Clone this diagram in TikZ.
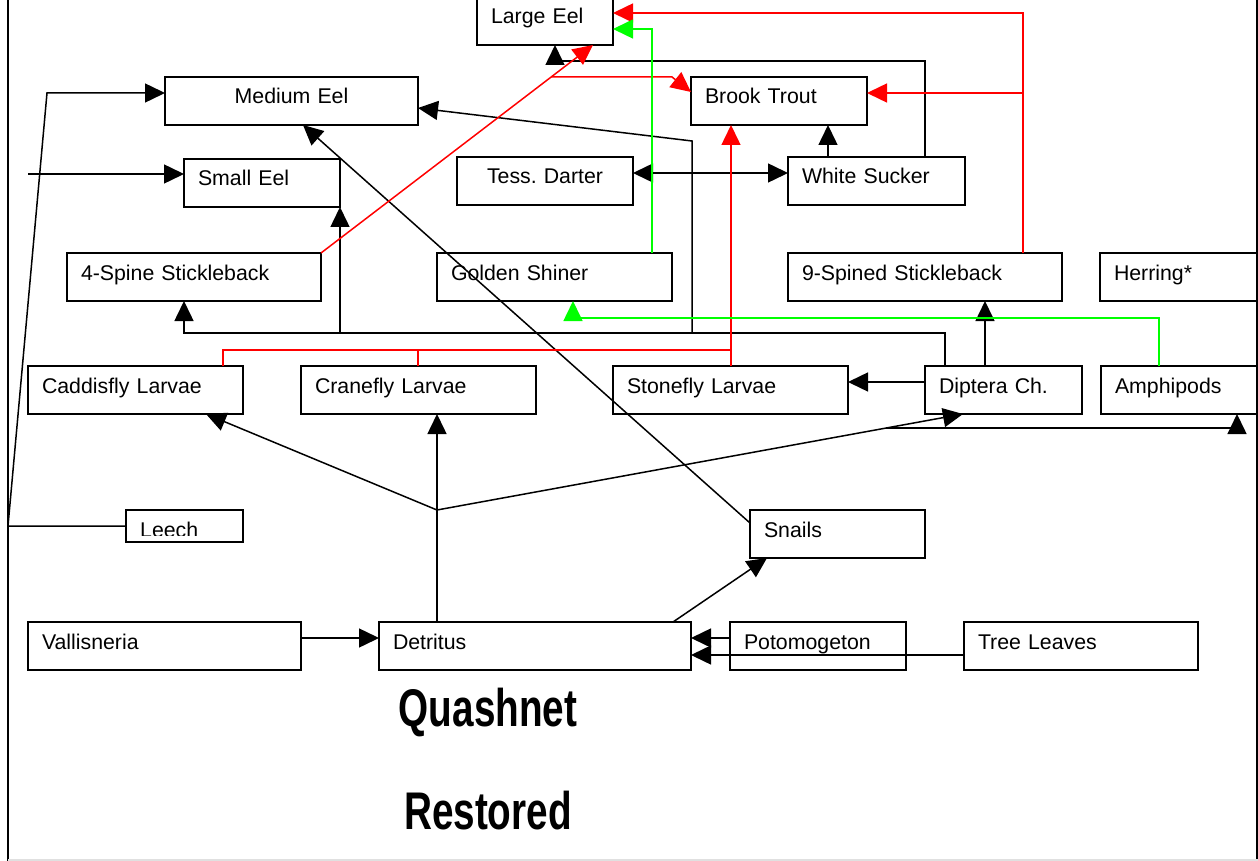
\documentclass[tikz,border=0pt]{standalone}
\usepackage{fontspec}
\setmainfont{Liberation Sans}
\usetikzlibrary{arrows.meta,calc}
\definecolor{linkred}{RGB}{255,0,0}
\definecolor{linkgreen}{RGB}{0,255,0}
\def\lab{\fontsize{21.3}{24}\selectfont}
\frenchspacing
\tikzset{
	box/.style={draw, line width=1.6pt, anchor=north west, outer sep=0pt, inner xsep=14pt, inner ysep=0pt, text height=27pt, text depth=21pt, text width=#1, align=left, font=\lab},
	cbox/.style={box=#1, align=center},
	feed/.style={line width=1.5pt, -{Triangle[length=20pt,width=19pt]}},
	feedboth/.style={line width=1.5pt, {Triangle[length=20pt,width=19pt]}-{Triangle[length=20pt,width=19pt]}},
	bigtitle/.style={anchor=base, font=\bfseries\fontsize{53}{60}\selectfont, xscale=0.73, inner sep=0pt}
}

\begin{document}
\begin{tikzpicture}[x=1pt, y=-1pt]
		%%%%% START %%%%%
		\useasboundingbox (0,0) rectangle (1258,861);
		
		\draw[line width=2pt] (8,0) -- (8,861);
		\draw[line width=1.5pt] (1257,0) -- (1257,861);
		\draw[line width=1.5pt, black!12] (8,860) -- (1258,860);
		
		% fish
		\node[box=108pt] (largeeel) at (477,-3) {Large Eel};
		\node[cbox=225pt] (mediumeel) at (165,77) {Medium Eel};
		\node[box=128pt] (smalleel) at (184,159) {Small Eel};
		\node[box=226pt] (stick4) at (67,253) {4-Spine Stickleback};
		\node[cbox=148pt] (darter) at (457,157) {Tess. Darter};
		\node[box=148pt] (trout) at (691,77) {Brook Trout};
		\node[box=149pt] (sucker) at (788,157) {White Sucker};
		\node[box=207pt] (shiner) at (437,253) {Golden Shiner};
		\node[box=246pt] (stick9) at (788,253) {9-Spined Stickleback};
		\node[box=129pt] (herring) at (1100,253) {Herring*};
		
		% invertebrates
		\node[box=187pt] (caddis) at (28,366) {Caddisfly Larvae};
		\node[box=207pt] (crane) at (301,366) {Cranefly Larvae};
		\node[box=207pt] (stone) at (613,366) {Stonefly Larvae};
		\node[box=129pt] (diptera) at (925,366) {Diptera Ch.};
		\node[box=128pt] (amphi) at (1101,366) {Amphipods};
		\begin{scope}
			\clip (126,510) rectangle (243,535);
			\node[anchor=base west, font=\lab, inner sep=0pt] (leechtxt) at (140,537) {Leech};
		\end{scope}
		\node[draw, line width=1.6pt, anchor=north west, outer sep=0pt, inner sep=0pt, minimum width=117pt, minimum height=32pt] (leech) at (126,510) {};
		\node[box=147pt] (snails) at (750,510) {Snails};
		
		% plants
		\node[box=245pt] (valli) at (28,622) {Vallisneria};
		\node[box=284pt] (detritus) at (379,622) {Detritus};
		\node[box=148pt] (potamo) at (730,622) {Potomogeton};
		\node[box=206pt] (leaves) at (964,622) {Tree Leaves};
		
		\node[bigtitle] (quash) at (488,726) {Quashnet};
		\node[bigtitle] (restored) at (488,829) {Restored};
		
		% black links
		\draw[feed] (leech.west) -- (8,526) -- (47,93) -- (mediumeel.west |- 0,93);
		\coordinate (smallin) at (28,174);
		\draw[feed] (smallin) -- (smalleel.west |- smallin);
		
		\draw[feed] (diptera.north -| 945,0) -- (945,333) -- (184,333) -- (stick4.south -| 184,0);
		\draw[feed] (340,333) -- (smalleel.south east);
		\draw[feed] (692,333) -- (692,141) -- (mediumeel.east |- 0,108);
		\draw[feed] (diptera.north -| 985,0) -- (stick9.south -| 985,0);
		\draw[feed] (diptera.west |- 0,382) -- (stone.east |- 0,382);
		
		\draw[feedboth] (darter.east |- 0,173) -- (sucker.west |- 0,173);
		\draw[feed] (sucker.north -| 828,0) -- (trout.south -| 828,0);
		\draw[feed] (sucker.north -| 925,0) |- (555,61) -- (largeeel.south -| 555,0);
		
		\draw[feed] (snails.west |- 0,523) -- (mediumeel.south -| 303,0);
		\draw[feed] (detritus.north -| 673,0) -- (snails.south -| 767,0);
		
		\coordinate (dj) at (437,510);
		\draw[feed] (detritus.north -| 437,0) -- (crane.south -| 437,0);
		\draw[feed] (dj) -- (caddis.south -| 206,0);
		\draw[feed] (dj) -- (diptera.south -| 963,0);
		\draw[feed] (886,428) -- (1237,428) -- (amphi.south -| 1237,0);
		
		\draw[feed] (valli.east |- 0,638) -- (detritus.west |- 0,638);
		\draw[feed] (potamo.west |- 0,638) -- (detritus.east |- 0,638);
		\draw[feed] (leaves.west |- 0,655) -- (detritus.east |- 0,655);
		
		% red links
		\draw[feed, linkred] (stick9.north -| 1023,0) |- (largeeel.east |- 0,13);
		\draw[feed, linkred] (1023,93) -- (trout.east |- 0,93);
		\draw[feed, linkred] (stick4.north east) -- (largeeel.south -| 593,0);
		\draw[feed, linkred] (551,77) -- (672,77) -- (trout.west |- 0,92);
		\draw[feed, linkred] (stone.north -| 731,0) -- (trout.south -| 731,0);
		\draw[line width=1.5pt, linkred] (caddis.north -| 223,0) |- (731,350);
		\draw[line width=1.5pt, linkred] (crane.north -| 418,0) -- (418,350);
		
		% green links
		\draw[feed, linkgreen] (amphi.north -| 1159,0) -- (1159,318) -- (573,318) -- (shiner.south -| 573,0);
		\draw[feed, linkgreen] (shiner.north -| 652,0) |- (largeeel.east |- 0,29);
		
		%%%%% END %%%%%
\end{tikzpicture}
\end{document}
